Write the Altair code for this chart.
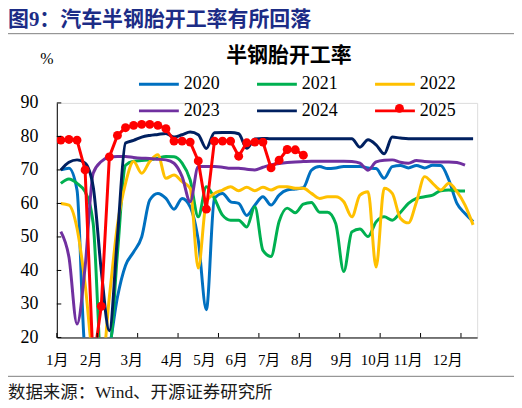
import json
import altair as alt
import pandas as pd

weeks = list(range(1, 53))
years = ["2020", "2021", "2022", "2023", "2024", "2025"]
colors = ["#0070C0", "#00B050", "#FFC000", "#7030A0", "#002060", "#FF0000"]

y2020 = [70, 70.5, 64, 16, 12, 10, 17, 32, 41.5, 45.5, 50, 61, 63, 61.5, 58.3, 61.5, 59, 49, 28.3, 61.5,
         63, 60.5, 60, 56.4, 59.5, 62, 59.5, 62.5, 64, 64.3, 64.7, 69.9, 71, 70.4, 70.6, 71, 71, 71, 70.6, 70.4,
         67.5, 71, 71.3, 70.6, 71.3, 70.6, 71.4, 71.3, 67, 60, 57, 54.6]
y2021 = [66, 67.3, 66, 63.5, 54, 15, 16, 45, 71.4, 72.6, 72.8, 73, 73.5, 74, 73.9, 72, 67, 56, 65, 61.5,
         56.5, 55, 55, 53, 59, 46, 44.2, 54.6, 58.6, 57.2, 59.8, 60.3, 57.4, 57.4, 54, 39.7, 51.5, 52.4, 50.1, 54.5,
         56, 55, 57.3, 60, 61.5, 62, 62.5, 63.8, 64, 63.8, 63.7]
y2022 = [60, 59.5, 52.6, 36, 14, 10, 32, 53.5, 66, 72.5, 69, 72.5, 74.5, 67.5, 68.5, 66.5, 64.5, 40.7, 60.5, 63,
         64, 65, 63.8, 64.8, 63.8, 64.8, 64, 65, 65, 64.5, 64.5, 63, 61.5, 62, 62, 60.5, 56, 62.5, 63.5, 41,
         64.5, 63, 55.6, 54.2, 60.5, 68, 66, 64, 66, 63.5, 59.5, 53.6]
y2023 = [51.6, 44, 24, 41, 69, 72.5, 73.8, 74, 74, 73.7, 73.5, 73.4, 73.2, 73, 72, 68, 60.5, 71, 71, 71,
         70.8, 70.5, 70.5, 70.2, 70, 70.8, 71.5, 71.9, 72.2, 72.4, 72.5, 72.6, 72.6, 72.6, 72.6, 72.6, 72.5, 72, 69.9, 72.4,
         72.9, 73, 72.3, 72, 72.8, 72.5, 72.4, 72.4, 72.4, 72.2, 71.4]
y2024 = [70, 72.3, 73, 72, 65, 40, 22, 50, 78, 78.8, 79.8, 80.3, 80.6, 80.9, 79.8, 80.5, 81.3, 80.5, 76.4, 81.1,
         81.2, 81.2, 80.8, 76.5, 79.2, 79.4, 79.3, 79.3, 79.3, 79.3, 79.3, 79.3, 79.3, 79.3, 79.3, 79.3, 79.3, 76.8, 79, 77.5,
         74.8, 79.8, 79.5, 79.3, 79.3, 79.3, 79.3, 79.3, 79.3, 79.3, 79.3, 79.3]
y2025 = [78.9, 79.1, 78.9, 70, 12, 29.3, 73.9, 80.3, 82.6, 83.3, 83.6, 83.6, 83.3, 82.3, 78.6, 78.6, 78.3, 72.7, 58.3, 78.6,
         78.6, 78.6, 74.1, 78.1, 78.3, 78.3, 70.6, 72.9, 76.1, 76.0, 74.4]

month_labels = ["1月", "2月", "3月", "4月", "5月", "6月", "7月", "8月", "9月", "10月", "11月", "12月"]
month_pos = [0.5, 4.7, 9.7, 14.7, 18.7, 22.7, 26.7, 30.8, 35.7, 39.9, 43.9, 48.8]
x_ticks = [0.5, 5.5, 10.5, 15.5, 20.5, 25.5, 30.5, 35.5, 40.5, 45.5, 50.5]
y_ticks = [20, 30, 40, 50, 60, 70, 80, 90]

series = [y2020, y2021, y2022, y2023, y2024, y2025]
rows = []
for yr, vals in zip(years, series):
    for w, v in zip(weeks, vals):
        rows.append({"year": yr, "week": w, "value": v})
df = pd.DataFrame(rows)
smooth_df = df[df["year"] != "2025"]
red_df = df[df["year"] == "2025"].assign(marker="m")

W, H = 422, 235.5
SERIF = "Liberation Serif, Noto Sans CJK SC"
CJK = "Noto Sans CJK SC"

xscale = alt.Scale(domain=[0.5, 52.5], nice=False, zero=False)
yscale = alt.Scale(domain=[20, 90], nice=False, zero=False)
cscale = alt.Scale(domain=years, range=colors)

label_expr = "{}[indexof({}, datum.value)]".format(
    json.dumps(month_labels, ensure_ascii=False), json.dumps(month_pos))
x_axis = alt.Axis(values=month_pos, labelExpr=label_expr, ticks=False, grid=False,
                  domainColor="#000000", domainWidth=1, labelFont=SERIF, labelFontSize=15,
                  labelColor="#000000", labelPadding=15, labelFlush=False,
                  labelOverlap=False, labelBound=False, title=None)
y_axis = alt.Axis(values=y_ticks, ticks=False, grid=False, domainColor="#000000", domainWidth=1,
                  labelFont="Liberation Serif", labelFontSize=18, labelColor="#000000",
                  labelPadding=19, title=None)

legend = alt.Legend(orient="none", direction="horizontal", legendX=91, legendY=-30.5, columns=3,
                    title=None, symbolType="M-2,0L2,0", symbolSize=400, symbolStrokeWidth=3,
                    labelFont="Liberation Serif", labelFontSize=18, labelColor="#000000",
                    labelOffset=13.5, columnPadding=30.5, rowPadding=6, padding=0)

X = alt.X("week:Q", scale=xscale, axis=x_axis)
Y = alt.Y("value:Q", scale=yscale, axis=y_axis)
C = alt.Color("year:N", scale=cscale, legend=legend)

smooth = alt.Chart(smooth_df).mark_line(interpolate="monotone", strokeWidth=3, clip=True).encode(
    x=X, y=Y, color=C)
red_line = alt.Chart(red_df).mark_line(strokeWidth=3, clip=True).encode(x=X, y=Y, color=C)
red_pts = alt.Chart(red_df).mark_point(filled=True, size=80, opacity=1, color="#FF0000",
                                       strokeWidth=0, clip=True).encode(
    x=X, y=Y,
    shape=alt.Shape("marker:N", scale=alt.Scale(range=["circle"]),
                    legend=alt.Legend(orient="none", legendX=339, legendY=0.5, title=None,
                                      labelExpr="''", symbolFillColor="#FF0000",
                                      symbolStrokeColor="#FF0000", symbolStrokeWidth=0,
                                      symbolSize=80, symbolOpacity=1, padding=0)))

ytick = alt.Chart(pd.DataFrame({"v": y_ticks})).mark_rule(color="#000000", strokeWidth=1).encode(
    y=alt.Y("v:Q", scale=yscale, axis=y_axis), x=alt.value(0), x2=alt.value(4.5))
xtick = alt.Chart(pd.DataFrame({"p": x_ticks})).mark_rule(color="#000000", strokeWidth=1).encode(
    x=alt.X("p:Q", scale=xscale, axis=x_axis), y=alt.value(H), y2=alt.value(H - 4.5))

one = pd.DataFrame({"k": [0]})


def text_layer(txt, x, y, size, font, color="#000000", weight="normal", align="left"):
    return alt.Chart(one).mark_text(align=align, baseline="middle", font=font, fontSize=size,
                                    fontWeight=weight, color=color).encode(
        x=alt.value(x), y=alt.value(y), text=alt.value(txt))


def hrule(y):
    return alt.Chart(one).mark_rule(color="#7F7F7F", strokeWidth=1).encode(
        x=alt.value(-51), x2=alt.value(459), y=alt.value(y))


header = text_layer("图9：汽车半钢胎开工率有所回落", -49, -83.5, 21, SERIF, "#1C2C86", "bold")
title = text_layer("半钢胎开工率", 233, -47.5, 21, CJK, "#000000", "bold", "center")
pct = text_layer("%", -10, -44.5, 16, "Liberation Serif", "#000000", "normal", "center")
footer = text_layer("数据来源：Wind、开源证券研究所", -49, 291, 17.5, SERIF, "#1A1A1A")

chart = alt.layer(
    smooth, red_line, red_pts, ytick, xtick,
    header, hrule(-69.5), title, pct, hrule(274.5), footer
).properties(
    width=W, height=H,
    autosize=alt.AutoSizeParams(type="none"),
    padding={"left": 49, "top": 94.5, "right": 37, "bottom": 66},
).configure_view(stroke=None).configure(background="#FFFFFF")

chart.save("out.html", embed_options={"renderer": "svg", "actions": False})
